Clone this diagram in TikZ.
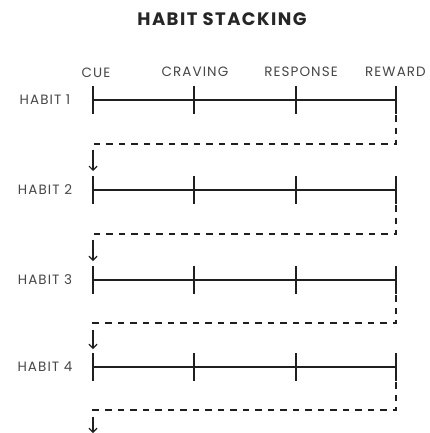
\documentclass[tikz,border=0pt]{standalone}
\usepackage{fontspec}
\setmainfont{Poppins}
\newfontfamily\labelfont[LetterSpace=8]{Poppins}
\usetikzlibrary{arrows.meta}
\begin{document}
\begin{tikzpicture}[x=1pt,y=-1pt,
  ink/.style={color=black!88},
  mainline/.style={line width=1.7pt, ink},
  tickline/.style={line width=2pt, ink},
  loopline/.style={line width=1.4pt, ink, dash pattern=on 6.5pt off 6pt},
  downarrow/.style={line width=1.2pt, ink, -{Straight Barb[length=4pt,width=8pt]}},
  titlelabel/.style={font=\labelfont\fontsize{18}{20}\selectfont\bfseries, color=black!85, inner sep=0pt},
  collabel/.style={font=\labelfont\fontsize{13.5}{15}\selectfont, color=black!72, inner sep=0pt},
  rowlabel/.style={font=\labelfont\fontsize{13.5}{15}\selectfont, color=black!72, inner sep=0pt}]
\fill[white] (0,0) rectangle (429,433);
\useasboundingbox (0,0) rectangle (429,433);
\node[titlelabel] (title) at (222,19) {HABIT STACKING};
\node[collabel] (cue) at (96,73) {CUE};
\node[collabel] (craving) at (195,72) {CRAVING};
\node[collabel] (response) at (301,72) {RESPONSE};
\node[collabel,anchor=west] (reward) at (365,72) {REWARD};
% row labels
\node[rowlabel] (h1) at (45,100) {HABIT 1};
\node[rowlabel] (h2) at (45,190) {HABIT 2};
\node[rowlabel] (h3) at (45,280) {HABIT 3};
\node[rowlabel] (h4) at (45,367) {HABIT 4};
% row 1
\coordinate (r1a) at (93,100); \coordinate (r1d) at (396,100);
\draw[mainline] (r1a) -- (r1d);
\draw[tickline] (93,86) -- (93,114);
\draw[tickline] (194,86) -- (194,114);
\draw[tickline] (296,86) -- (296,114);
\draw[tickline] (396,86) -- (396,114);
% row 2
\coordinate (r2a) at (93,190); \coordinate (r2d) at (396,190);
\draw[mainline] (r2a) -- (r2d);
\draw[tickline] (93,176) -- (93,204);
\draw[tickline] (194,176) -- (194,204);
\draw[tickline] (296,176) -- (296,204);
\draw[tickline] (396,176) -- (396,204);
% row 3
\coordinate (r3a) at (93,280); \coordinate (r3d) at (396,280);
\draw[mainline] (r3a) -- (r3d);
\draw[tickline] (93,266) -- (93,294);
\draw[tickline] (194,266) -- (194,294);
\draw[tickline] (296,266) -- (296,294);
\draw[tickline] (396,266) -- (396,294);
% row 4
\coordinate (r4a) at (93,367); \coordinate (r4d) at (396,367);
\draw[mainline] (r4a) -- (r4d);
\draw[tickline] (93,353) -- (93,381);
\draw[tickline] (194,353) -- (194,381);
\draw[tickline] (296,353) -- (296,381);
\draw[tickline] (396,353) -- (396,381);
% loops
\coordinate (l1s) at (396,115); \coordinate (l1e) at (396,144);
\coordinate (l1w) at (93,144); \coordinate (l1m) at (93,151); \coordinate (l1t) at (93,171);
\draw[loopline] (l1s) -- (l1e) -- (l1w) -- (l1m);
\draw[downarrow] (l1m) -- (l1t);
\coordinate (l2s) at (396,205); \coordinate (l2e) at (396,234);
\coordinate (l2w) at (93,234); \coordinate (l2m) at (93,241); \coordinate (l2t) at (93,261);
\draw[loopline] (l2s) -- (l2e) -- (l2w) -- (l2m);
\draw[downarrow] (l2m) -- (l2t);
\coordinate (l3s) at (396,295); \coordinate (l3e) at (396,323);
\coordinate (l3w) at (93,323); \coordinate (l3m) at (93,330); \coordinate (l3t) at (93,349);
\draw[loopline] (l3s) -- (l3e) -- (l3w) -- (l3m);
\draw[downarrow] (l3m) -- (l3t);
\coordinate (l4s) at (396,382); \coordinate (l4e) at (396,410);
\coordinate (l4w) at (93,410); \coordinate (l4m) at (93,417); \coordinate (l4t) at (93,433);
\draw[loopline] (l4s) -- (l4e) -- (l4w) -- (l4m);
\draw[downarrow] (l4m) -- (l4t);
\end{tikzpicture}
\end{document}
